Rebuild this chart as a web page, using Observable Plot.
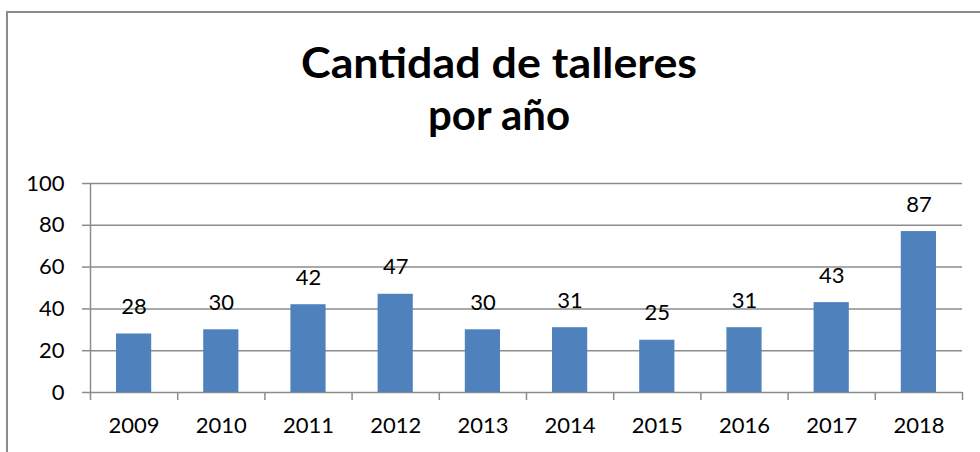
<!DOCTYPE html>
<html>
<head>
<meta charset="utf-8">
<script src="https://cdn.jsdelivr.net/npm/d3@7"></script>
<script src="https://cdn.jsdelivr.net/npm/@observablehq/plot@0.6"></script>
<style>
  html, body { margin: 0; padding: 0; background: #fff; }
  #wrap { position: relative; width: 980px; height: 452px; overflow: hidden; }
  #chart { position: absolute; left: 0; top: 0; }
  #frame { position: absolute; left: 6px; top: 11px; right: -10px; bottom: -10px;
           border-top: 2px solid #8c8c8c; border-left: 2px solid #8c8c8c; pointer-events: none; }
  #title { position: absolute; left: 0; top: 0; }
</style>
</head>
<body>
<div id="wrap">
  <div id="chart"></div>
  <div id="frame"></div>
  <svg id="title" width="980" height="160"></svg>
</div>
<script>
// ---- data ----
const titleLines = ["Cantidad de talleres", "por año"];
const years = ["2009", "2010", "2011", "2012", "2013", "2014", "2015", "2016", "2017", "2018"];
const values = [28, 30, 42, 47, 30, 31, 25, 31, 43, 77];           // bar heights as drawn
const valueLabels = ["28", "30", "42", "47", "30", "31", "25", "31", "43", "87"]; // labels as printed
const yTicks = [0, 20, 40, 60, 80, 100];

const data = years.map((year, i) => ({ year, i, value: values[i], label: valueLabels[i] }));
const gray = "#8c8c8c";
const font = "Lato, 'Open Sans', sans-serif";

const plot = Plot.plot({
  width: 980,
  height: 452,
  marginTop: 183,
  marginBottom: 60,
  marginLeft: 90,
  marginRight: 18,
  style: { fontFamily: font, fontSize: "22px", background: "transparent", color: "#000" },
  x: { domain: [0, years.length], label: null },
  y: { domain: [0, 100], label: null },
  marks: [
    Plot.gridY(yTicks, { stroke: gray, strokeOpacity: 1, strokeWidth: 1.5 }),
    Plot.axisY(yTicks, { tickSize: 8, tickPadding: 18, stroke: gray, strokeWidth: 1.5, fill: "#000", fontSize: 22, label: null, tickFormat: d => String(d) }),
    Plot.ruleX([0], { stroke: gray, strokeWidth: 1.5 }),
    Plot.axisX(d3.range(years.length + 1), { tickSize: 8, stroke: gray, strokeWidth: 1.5, label: null, tickFormat: () => "" }),
    Plot.axisX(d3.range(years.length).map(i => i + 0.5), {
      tickSize: 0, tickPadding: 25, fill: "#000", fontSize: 22, label: null,
      tickFormat: v => years[Math.floor(v)]
    }),
    Plot.rectY(data, { x1: d => d.i, x2: d => d.i + 1, y: "value", insetLeft: 26, insetRight: 26, fill: "#4F81BD" }),
    Plot.text(data, { x: d => d.i + 0.5, y: "value", text: "label", dy: -27, fontSize: 22, fill: "#000" })
  ]
});
document.getElementById("chart").appendChild(plot);

// ---- title ----
const tsvg = d3.select("#title");
const lineSpecs = [
  { text: titleLines[0], y: 78, width: 396 },
  { text: titleLines[1], y: 130, width: 142 }
];
tsvg.selectAll("text").data(lineSpecs).join("text")
  .attr("x", 499)
  .attr("y", d => d.y)
  .attr("text-anchor", "middle")
  .attr("font-family", font)
  .attr("font-weight", "bold")
  .attr("font-size", 42)
  .attr("fill", "#000")
  .attr("textLength", d => d.width)
  .attr("lengthAdjust", "spacingAndGlyphs")
  .text(d => d.text);
</script>
</body>
</html>
